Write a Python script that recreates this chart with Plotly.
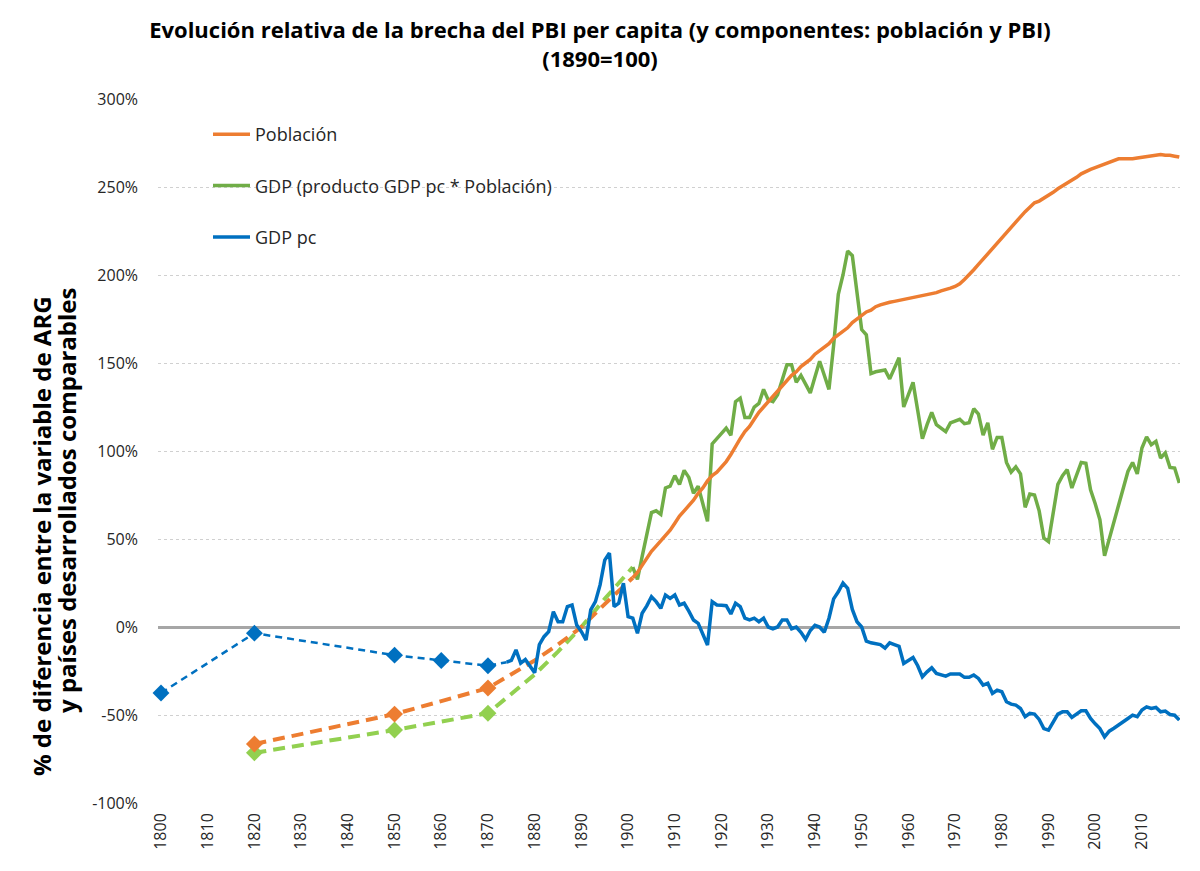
import plotly.graph_objects as go

# ---------------- data ----------------
# dashed (benchmark / interpolated) segments
pc_dash_years = [1800, 1820, 1850, 1860, 1870, 1874]
pc_dash_vals = [-37.5, -3.5, -16, -19, -22, -20]

pop_dash_years = [1820, 1850, 1870, 1875, 1880, 1885, 1890, 1895, 1901]
pop_dash_vals = [-66.5, -49.5, -34.7, -27, -19, -10, 0, 13, 28]

gdp_dash_years = [1820, 1850, 1870, 1875, 1880, 1885, 1890, 1895, 1901]
gdp_dash_vals = [-71.5, -58.5, -49, -38, -27, -14, 0, 16, 34]

# annual GDP per capita gap
pc_years = list(range(1874, 2019))
pc_vals = [
    -20, -19, -13, -20.5, -18.5, -22, -26, -10, -5.5, -2.7,          # 1874-1883
    8.7, 3, 3, 11.6, 12.5, 1.1, -2.7, -7.4, 9.7, 14.4,               # 1884-1893
    23.9, 38, 42, 11.6, 13.5, 24.9, 5.9, 5, -3.6, 7.8,               # 1894-1903
    12, 17.2, 14.4, 10.6, 18.2, 16.3, 18.2, 12.5, 13.5, 9,           # 1904-1913
    4, 2.1, -4, -10.2, 14.4, 12.5, 12.3, 12.1, 7.4, 13.5,            # 1914-1923
    11.6, 5, 4, 5, 3, 5, 0, -1, 0, 4,                                # 1924-1933
    4, -1, 0, -3, -7, -2, 1, 0, -3, 5,                               # 1934-1943
    16, 20, 25, 22, 10, 3, 0, -8, -9, -9.5,                          # 1944-1953
    -10, -12, -9, -10, -11, -20.7, -19, -17.3, -22, -28.3,           # 1954-1963
    -25.5, -23.2, -26.4, -27, -27.9, -26.7, -26.7, -26.7, -28.6, -28.6,  # 1964-1973
    -27.3, -29.2, -33, -32, -37.7, -35.9, -36.8, -42.5, -43.8, -44.4,    # 1974-1983
    -46.3, -51, -49.1, -49.5, -52.5, -57.7, -58.6, -53.9, -49.5, -48.2,  # 1984-1993
    -48.2, -51.4, -49.7, -47.6, -47.6, -52, -55, -57.7, -62.4, -59.2,    # 1994-2003
    -57.5, -55.8, -54, -52, -50.1, -51, -47.2, -45.4, -46.3, -45.7,      # 2004-2013
    -48.2, -47.8, -49.7, -50.1, -52.9,                                   # 2014-2018
]

# annual population gap
pop_years = list(range(1901, 2019))
pop_vals = [
    28, 31, 35, 39, 43, 46, 49, 52, 55, 59,                  # 1901-1910
    63, 66, 69, 72, 76, 79, 83, 86, 88, 91,                  # 1911-1920
    94, 98, 103, 107, 111, 114, 118, 122, 125, 128,          # 1921-1930
    131, 134, 137, 140, 143, 145, 148, 150, 152, 155,        # 1931-1940
    157, 159, 161, 164, 166, 168, 170, 173, 175, 177,        # 1941-1950
    179, 180, 182, 183, 184, 184.5, 185, 185.5, 186, 187,    # 1951-1960
    187.5, 188, 188.5, 189, 189.5, 190, 191, 191.5, 192.5, 193.5,  # 1961-1970
    195, 197.5, 200, 203, 206, 209, 212, 215.5, 218, 221,    # 1971-1980
    224, 227, 230.5, 233.5, 236, 238.5, 241, 242, 243.5, 245,  # 1981-1990
    247, 249, 250.5, 252.5, 254, 255.5, 257.5, 259, 260, 261,  # 1991-2000
    262, 263, 264.5, 265.5, 266, 266, 266, 266, 266.5, 267,    # 2001-2010
    267.5, 267.5, 268.5, 268.5, 268, 268, 267.5, 267,          # 2011-2018
]

# annual GDP gap
gdp_years = list(range(1901, 2019))
gdp_vals = [
    34, 27, 40, 53, 65, 66, 64, 79, 80, 86,                  # 1901-1910
    81, 89, 85, 76, 80, 70, 60, 104, 107, 110,               # 1911-1920
    113, 109, 128, 130, 119, 119, 125, 127, 135, 129,        # 1921-1930
    128, 132, 140, 149, 149, 139, 143, 138, 133, 142,        # 1931-1940
    151, 143, 135, 160, 189, 200, 213.6, 211, 188, 169,      # 1941-1950
    166, 144, 145, 145.5, 146, 141, 147, 153, 125, 132,      # 1951-1960
    139, 123, 107, 115, 122, 115, 113, 111, 116, 117,        # 1961-1970
    118, 115.5, 116, 124, 121, 109, 116, 101, 107.7, 107.7,  # 1971-1980
    93.5, 88, 91, 87, 68, 75.5, 75, 66, 50.5, 48.5,          # 1981-1990
    66, 81, 86, 89.4, 79, 86, 93.5, 93, 78, 70,              # 1991-2000
    61, 40.4, 50, 60, 70.4, 80, 88.4, 93.5, 87, 101.7,       # 2001-2010
    108, 103.6, 105.5, 96, 98.9, 90.7, 90.3, 81.8,           # 2011-2018
]

y_tickvals = [-100, -50, 0, 50, 100, 150, 200, 250, 300]
y_ticktext = ["-100%", "-50%", "0%", "50%", "100%", "150%", "200%", "250%", "300%"]
x_tickvals = list(range(1800, 2011, 10))

# ---------------- colours ----------------
BLUE = "#0070C0"
ORANGE = "#ED7D31"
GREEN = "#70AD47"
LGREEN = "#92D050"
FONT = "Open Sans"

W, H = 1200, 871
L, R, T, B = 158, 20, 99, 68
PW = W - L - R
PH = H - T - B


def diamond(color, sizes):
    return dict(symbol="diamond", color=color, size=sizes, opacity=1,
                line=dict(width=0))


fig = go.Figure()

fig.add_trace(go.Scatter(
    x=gdp_dash_years, y=gdp_dash_vals, mode="lines+markers", showlegend=False,
    line=dict(color=LGREEN, width=4, dash="12px,7px"),
    marker=diamond(LGREEN, [13, 13, 13, 0, 0, 0, 0, 0, 0]),
    cliponaxis=False, hoverinfo="skip"))
fig.add_trace(go.Scatter(
    x=pop_dash_years, y=pop_dash_vals, mode="lines+markers", showlegend=False,
    line=dict(color=ORANGE, width=4, dash="12px,7px"),
    marker=diamond(ORANGE, [13, 13, 13, 0, 0, 0, 0, 0, 0]),
    cliponaxis=False, hoverinfo="skip"))
fig.add_trace(go.Scatter(
    x=pc_dash_years, y=pc_dash_vals, mode="lines+markers", showlegend=False,
    line=dict(color=BLUE, width=2.5, dash="7px,5px"),
    marker=diamond(BLUE, [13, 13, 13, 13, 13, 0]),
    cliponaxis=False, hoverinfo="skip"))

fig.add_trace(go.Scatter(
    x=gdp_years, y=gdp_vals, mode="lines", name="GDP (producto GDP pc * Población)",
    line=dict(color=GREEN, width=3.5), legendrank=2, legendgroup="g2"))
fig.add_trace(go.Scatter(
    x=pop_years, y=pop_vals, mode="lines", name="Población",
    line=dict(color=ORANGE, width=3.5), legendrank=1, legendgroup="g1"))
fig.add_trace(go.Scatter(
    x=pc_years, y=pc_vals, mode="lines", name="GDP pc",
    line=dict(color=BLUE, width=3.5), legendrank=3, legendgroup="g3"))

fig.update_layout(
    width=W, height=H,
    margin=dict(l=L, r=R, t=T, b=B),
    paper_bgcolor="white", plot_bgcolor="white",
    font=dict(family=FONT, color="#262626"),
    title=dict(
        text="<b>Evolución relativa de la brecha del PBI per capita (y componentes: población y PBI)<br>(1890=100)</b>",
        x=0.5, xanchor="center", y=1 - 38 / H, yanchor="middle",
        font=dict(size=22, color="black", family=FONT)),
    showlegend=True,
    legend=dict(
        x=(208 - L) / PW, xanchor="left",
        y=1 - (116 - T) / PH, yanchor="top",
        font=dict(size=18, color="#262626", family=FONT),
        bgcolor="rgba(0,0,0,0)", tracegroupgap=25,
        itemwidth=37, traceorder="grouped"),
    xaxis=dict(
        range=[1799.36, 2018.15], tickmode="array", tickvals=x_tickvals,
        tickangle=-90, showgrid=False, zeroline=False, showline=False,
        ticks="", ticklabelstandoff=6,
        tickfont=dict(size=16, color="#262626", family=FONT)),
    yaxis=dict(
        range=[-100, 300], tickmode="array", tickvals=y_tickvals, ticktext=y_ticktext,
        showgrid=True, gridcolor="#D0D0D0", griddash="dot", gridwidth=1,
        zeroline=True, zerolinecolor="#A6A6A6", zerolinewidth=3,
        showline=False, ticks="", ticklabelstandoff=19,
        tickfont=dict(size=16, color="#262626", family=FONT)),
    annotations=[
        dict(text="<b>% de diferencia entre la variable de ARG</b>",
             xref="paper", yref="paper", x=(41 - L) / PW, y=1 - (536 - T) / PH,
             xanchor="center", yanchor="middle", textangle=-90, showarrow=False,
             font=dict(size=24, color="black", family=FONT)),
        dict(text="<b>y países desarrollados comparables</b>",
             xref="paper", yref="paper", x=(66 - L) / PW, y=1 - (500 - T) / PH,
             xanchor="center", yanchor="middle", textangle=-90, showarrow=False,
             font=dict(size=24, color="black", family=FONT)),
    ],
)

fig.write_html("out.html")
